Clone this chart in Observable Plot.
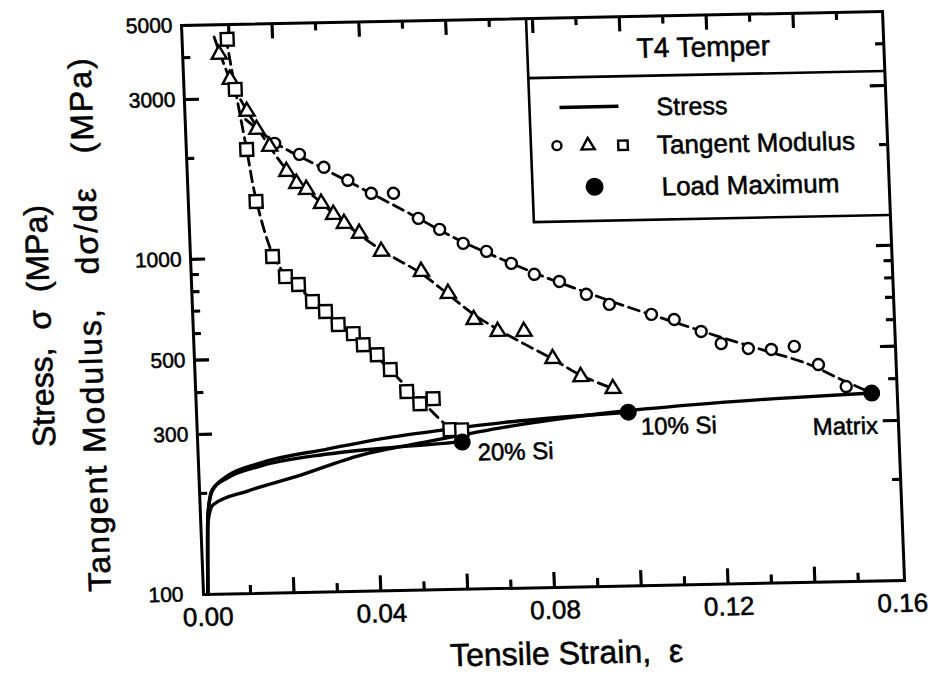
<!DOCTYPE html>
<html><head><meta charset="utf-8">
<script src="https://cdn.jsdelivr.net/npm/d3@7"></script>
<script src="https://cdn.jsdelivr.net/npm/@observablehq/plot@0.6"></script>
<style>
html,body{margin:0;padding:0;background:#fff;overflow:hidden}
#chart{position:relative;width:928px;height:692px}
#chart svg text{stroke:#000;stroke-width:0.55px}
</style></head><body><div id="chart"></div>
<script>
// ---------- data ----------
// Tangent modulus, matrix (circles)
const tmMatrixStrain = [0.0195,0.0251,0.0306,0.0360,0.0413,0.0464,0.0519,0.0567,0.0620,0.0673,0.0729,0.0781,0.0838,0.0899,0.0951,0.1047,0.1099,0.1160,0.1205,0.1267,0.1320,0.1373,0.1427,0.1489];
const tmMatrixValue  = [2197,2030,1851,1687,1538,1534,1286,1189,1077,1016,932,862,818,746,694,644,620,569,522,503,498,507,446,382];
// Tangent modulus, 10% Si (triangles)
const tm10Strain = [0.0075,0.0098,0.0134,0.0155,0.0183,0.0220,0.0242,0.0264,0.0297,0.0324,0.0348,0.0382,0.0431,0.0521,0.0581,0.0638,0.0692,0.0752,0.0816,0.0879,0.0952];
const tm10Value  = [4080,3430,2747,2424,2153,1808,1663,1594,1445,1337,1255,1170,1031,893,765,637,585,583,482,424,389];
// Tangent modulus, 20% Si (squares)
const tm20Strain = [0.0095,0.0109,0.0130,0.0147,0.0180,0.0208,0.0237,0.0268,0.0297,0.0325,0.0359,0.0381,0.0412,0.0441,0.0477,0.0506,0.0537,0.0573,0.0600];
const tm20Value  = [4518,3200,2114,1477,1010,878,830,737,687,627,588,544,507,457,392,360,372,300,299];
// Dashed fitted curves through the tangent-modulus points
const fitMatrixStrain = [0.013,0.02,0.03,0.04,0.05,0.06,0.07,0.08,0.09,0.10,0.11,0.12,0.13,0.14,0.148,0.1547];
const fitMatrixValue  = [2600,2190,1850,1570,1330,1120,970,850,755,675,608,548,497,450,400,364];
const fit10Strain = [0.0065,0.0098,0.0134,0.0183,0.022,0.0264,0.0297,0.0348,0.0431,0.0521,0.0581,0.0638,0.0700,0.0816,0.0879,0.0952];
const fit10Value  = [4600,3430,2760,2150,1830,1590,1450,1260,1040,880,760,660,585,480,428,389];
const fit20Strain = [0.0092,0.0109,0.0130,0.0147,0.0180,0.0208,0.0268,0.0325,0.0381,0.0441,0.0477,0.0520,0.0573,0.0600];
const fit20Value  = [4600,3200,2114,1500,1030,890,745,630,545,455,405,355,305,299];
// Stress-strain curves
const stressMatrixStrain = [0.0001,0.0008,0.0021,0.010,0.021,0.0366,0.052,0.070,0.0944,0.113,0.1325,0.1547];
const stressMatrixValue  = [100,165,185,202,221,255,277,303,330,344,355,364];
const stress10Strain = [0.0001,0.0008,0.002,0.0054,0.0135,0.0289,0.0445,0.056,0.070,0.085,0.0985];
const stress10Value  = [100,170,203,224,245,267,288,300,313,323,330];
const stress20Strain = [0.0001,0.0008,0.002,0.0054,0.0135,0.0289,0.0445,0.057,0.060];
const stress20Value  = [100,172,205,221,240,258,268,274,276];
// Load maxima
const loadMaxStrain = [0.0600,0.0985,0.1547];
const loadMaxStress = [275,330,364];
const loadMaxLabel  = ["20% Si","10% Si","Matrix"];
// Axis ticks and tick labels
const xTickLabels = [0,0.04,0.08,0.12,0.16];
const xTicks = [0.01,0.02,0.03,0.04,0.05,0.06,0.07,0.08,0.09,0.10,0.11,0.12,0.13,0.14,0.15];
const yTickLabels = [100,300,500,1000,3000,5000];
const yTicks = [200,300,400,500,600,700,800,900,1000,2000,3000,4000];

// ---------- build ----------
const pts = (xs, ys) => xs.map((x, i) => ({x, y: ys[i]}));
const W = 928, H = 692, mL = 181, mT = 25, mR = 46, mB = 98;
const fw = W - mL - mR, fh = H - mT - mB;
const X0 = -0.0009, X1 = 0.1606, Y0 = 100, Y1 = 5000;
const FONT = '"Liberation Sans", Arial, Helvetica, sans-serif';
const isMajorX = d => Math.round(d * 100) % 2 === 0;
const isMajorY = d => yTickLabels.includes(d);
const loads = loadMaxStrain.map((x, i) => ({x, y: loadMaxStress[i], label: loadMaxLabel[i]}));
const markStyle = {stroke: "black", fill: "white", strokeWidth: 2.4};
const xMinor = xTicks.filter(d => !isMajorX(d)), xMajor = xTicks.filter(isMajorX);
const yMinor = yTicks.filter(d => !isMajorY(d)), yMajor = yTicks.filter(isMajorY);

const chart = Plot.plot({
  width: W, height: H,
  marginLeft: mL, marginTop: mT, marginRight: mR, marginBottom: mB,
  style: {fontFamily: FONT},
  x: {domain: [X0, X1], axis: null},
  y: {type: "log", domain: [Y0, Y1], axis: null},
  marks: [
    Plot.frame({stroke: "black", strokeWidth: 3}),
    // tick labels
    Plot.text(xTickLabels, {x: d => d, frameAnchor: "bottom", dy: 23, lineAnchor: "middle", textAnchor: "middle", text: d => d.toFixed(2), fontSize: 26}),
    Plot.text(yTickLabels.filter(d => d !== 100), {y: d => d, frameAnchor: "left", dx: -9, textAnchor: "end", lineAnchor: "middle", text: d => String(d), fontSize: 21}),
    Plot.text(yTickLabels.filter(d => d === 100), {y: d => d, frameAnchor: "left", dx: -20, textAnchor: "end", lineAnchor: "middle", text: d => String(d), fontSize: 21}),
    // stress curves
    Plot.line(pts(stressMatrixStrain, stressMatrixValue), {x: "x", y: "y", curve: "monotone-x", strokeWidth: 3.4}),
    Plot.line(pts(stress10Strain, stress10Value), {x: "x", y: "y", curve: "monotone-x", strokeWidth: 3.4}),
    Plot.line(pts(stress20Strain, stress20Value), {x: "x", y: "y", curve: "monotone-x", strokeWidth: 3.4}),
    // dashed fits
    Plot.line(pts(fitMatrixStrain, fitMatrixValue), {x: "x", y: "y", curve: "catmull-rom", strokeWidth: 2.8, strokeDasharray: "11,6"}),
    Plot.line(pts(fit10Strain, fit10Value), {x: "x", y: "y", curve: "catmull-rom", strokeWidth: 2.8, strokeDasharray: "11,6"}),
    Plot.line(pts(fit20Strain, fit20Value), {x: "x", y: "y", curve: "catmull-rom", strokeWidth: 2.8, strokeDasharray: "11,6"}),
    // tangent modulus points
    Plot.dot(pts(tmMatrixStrain, tmMatrixValue), {x: "x", y: "y", symbol: "circle", r: 5.5, ...markStyle}),
    Plot.dot(pts(tm10Strain, tm10Value), {x: "x", y: "y", symbol: "triangle", r: 5.6, ...markStyle}),
    Plot.dot(pts(tm20Strain, tm20Value), {x: "x", y: "y", symbol: "square", r: 7.2, ...markStyle}),
    // load maxima
    Plot.dot(loads, {x: "x", y: "y", r: 8.5, fill: "black", stroke: "none"}),
    Plot.text(loads.filter((d, i) => i === 0), {x: "x", y: "y", text: "label", dx: 15, dy: 11, textAnchor: "start", lineAnchor: "middle", fontSize: 24}),
    Plot.text(loads.filter((d, i) => i === 1), {x: "x", y: "y", text: "label", dx: 12, dy: 15, textAnchor: "start", lineAnchor: "middle", fontSize: 24}),
    Plot.text(loads.filter((d, i) => i === 2), {x: "x", y: "y", text: "label", dx: 5, dy: 33, textAnchor: "end", lineAnchor: "middle", fontSize: 24}),
    // inward ticks (drawn last, as rules with insets)
    Plot.ruleX(xMinor, {x: d => d, insetTop: fh - 8, stroke: "black", strokeWidth: 2.6}),
    Plot.ruleX(xMajor, {x: d => d, insetTop: fh - 15, stroke: "black", strokeWidth: 2.6}),
    Plot.ruleX(xMinor, {x: d => d, insetBottom: fh - 8, stroke: "black", strokeWidth: 2.6}),
    Plot.ruleX(xMajor, {x: d => d, insetBottom: fh - 15, stroke: "black", strokeWidth: 2.6}),
    Plot.ruleY(yMinor, {y: d => d, insetRight: fw - 8, stroke: "black", strokeWidth: 2.6}),
    Plot.ruleY(yMajor, {y: d => d, insetRight: fw - 15, stroke: "black", strokeWidth: 2.6}),
    Plot.ruleY(yMinor, {y: d => d, insetLeft: fw - 8, stroke: "black", strokeWidth: 2.6}),
    Plot.ruleY(yMajor, {y: d => d, insetLeft: fw - 15, stroke: "black", strokeWidth: 2.6})
  ]
});

const svg = d3.select(chart);
const fx0 = mL, fx1 = W - mR, fy0 = mT, fy1 = H - mB;
const NB = "\u00A0";

// ticks again as small filled rectangles (same scales as the plot)
const xs = d3.scaleLinear([X0, X1], [fx0, fx1]);
const ys = d3.scaleLog([Y0, Y1], [fy1, fy0]);
const rg = svg.append("g").attr("fill", "black");
xTicks.forEach(d => {
  const x = xs(d), L = isMajorX(d) ? 15 : 8;
  rg.append("rect").attr("x", x - 1.3).attr("y", fy1 - L).attr("width", 2.6).attr("height", L).attr("fill", "black");
  rg.append("rect").attr("x", x - 1.3).attr("y", fy0).attr("width", 2.6).attr("height", L).attr("fill", "black");
});
yTicks.forEach(d => {
  const y = ys(d), L = isMajorY(d) ? 15 : 8;
  rg.append("rect").attr("x", fx0).attr("y", y - 1.3).attr("width", L).attr("height", 2.6).attr("fill", "black");
  rg.append("rect").attr("x", fx1 - L).attr("y", y - 1.3).attr("width", L).attr("height", 2.6).attr("fill", "black");
});

// legend box
const lg = svg.append("g").attr("font-family", FONT).attr("fill", "black").attr("text-anchor", "start");
const boxL = 526, boxDiv = 85, boxBot = 229;
lg.append("path").attr("d", `M${boxL},${fy0}V${boxBot}H${fx1}M${boxL},${boxDiv}H${fx1}`)
  .attr("fill", "none").attr("stroke", "black").attr("stroke-width", 2.6);
lg.append("text").attr("x", 702).attr("y", 57).attr("dy", "0.35em").attr("text-anchor", "middle").attr("font-size", 28).text("T4 Temper");
lg.append("line").attr("x1", 556).attr("x2", 615).attr("y1", 115).attr("y2", 115).attr("stroke", "black").attr("stroke-width", 3.4);
lg.append("text").attr("x", 653).attr("y", 116).attr("dy", "0.35em").attr("font-size", 25).text("Stress");
lg.append("circle").attr("cx", 552).attr("cy", 153).attr("r", 4.5).attr("fill", "white").attr("stroke", "black").attr("stroke-width", 2.4);
lg.append("path").attr("d", d3.symbol(d3.symbolTriangle, 75)()).attr("transform", "translate(583,153.5)").attr("fill", "white").attr("stroke", "black").attr("stroke-width", 2.4);
lg.append("path").attr("d", d3.symbol(d3.symbolSquare, 90)()).attr("transform", "translate(618,154)").attr("fill", "white").attr("stroke", "black").attr("stroke-width", 2.4);
lg.append("text").attr("x", 652).attr("y", 154).attr("dy", "0.35em").attr("font-size", 26).text("Tangent Modulus");
lg.append("circle").attr("cx", 588).attr("cy", 195).attr("r", 9).attr("fill", "black");
lg.append("text").attr("x", 655).attr("y", 196).attr("dy", "0.35em").attr("font-size", 26).text("Load Maximum");

// axis titles
svg.append("text").attr("x", 542).attr("y", 660).attr("dy", "0.35em").attr("text-anchor", "middle")
  .attr("font-family", FONT).attr("font-size", 32).text("Tensile Strain," + NB + NB + "ε");
svg.append("text").attr("transform", "translate(28,323) rotate(-90)").attr("dy", "0.35em").attr("text-anchor", "middle")
  .attr("font-family", FONT).attr("font-size", 32).text("Stress," + NB + NB + "σ" + NB + NB + "(MPa)");
svg.append("text").attr("transform", "translate(78,322) rotate(-90)").attr("dy", "0.35em").attr("text-anchor", "middle")
  .attr("font-family", FONT).attr("font-size", 32).attr("letter-spacing", 2)
  .text("Tangent Modulus," + NB + NB + NB + "dσ/dε" + NB + NB + NB + "(MPa)");

// slight scan-like tilt of the whole figure (about the frame's top-left corner)
const wrap = document.createElementNS("http://www.w3.org/2000/svg", "g");
wrap.setAttribute("transform", "matrix(1,-0.02,0.0387,1,-0.9675,3.62)");
Array.from(chart.childNodes).forEach(n => { if (n.nodeName.toLowerCase() !== "style") wrap.appendChild(n); });
chart.appendChild(wrap);

document.getElementById("chart").appendChild(chart);
</script></body></html>
